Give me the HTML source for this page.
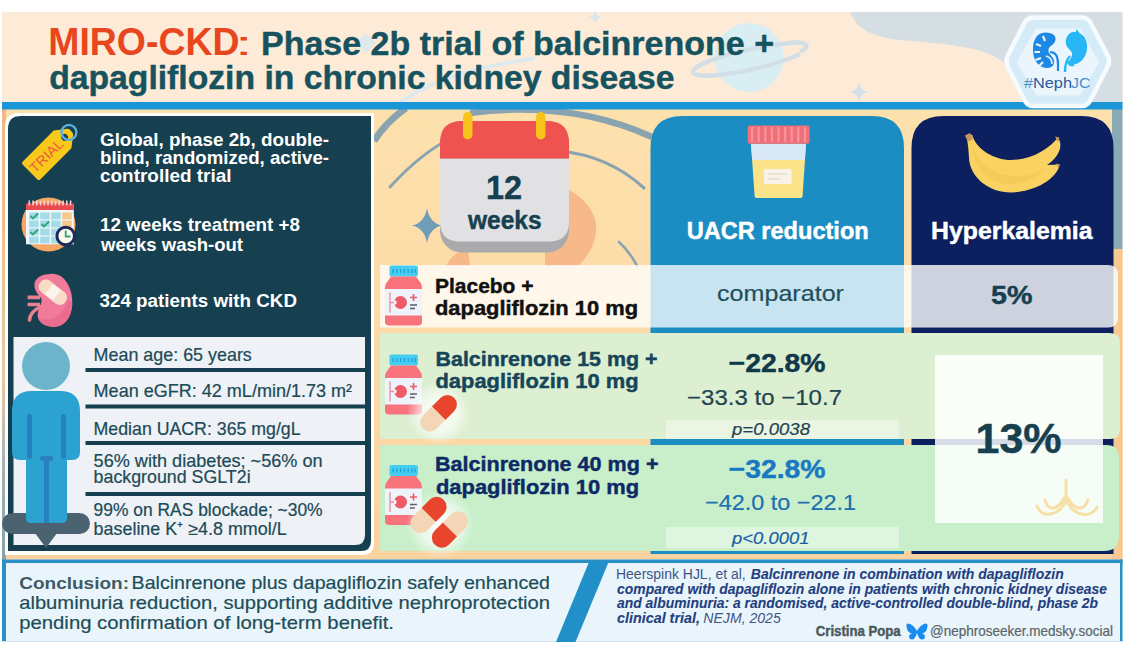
<!DOCTYPE html><html><head><meta charset="utf-8"><style>html,body{margin:0;padding:0;background:#fff;width:1145px;height:650px;overflow:hidden}svg{display:block}text{font-family:"Liberation Sans", sans-serif}</style></head><body><svg width="1145" height="650" viewBox="0 0 1145 650"><defs><linearGradient id="peach" x1="0" y1="0" x2="0" y2="1"><stop offset="0" stop-color="#fde1ad"/><stop offset="0.5" stop-color="#fcdba8"/><stop offset="1" stop-color="#fbd3a0"/></linearGradient><linearGradient id="lstrip" x1="0" y1="0" x2="0" y2="1"><stop offset="0" stop-color="#efb787"/><stop offset="0.6" stop-color="#e6c9a0"/><stop offset="0.8" stop-color="#a3b3b2"/><stop offset="1" stop-color="#87a2ac"/></linearGradient><radialGradient id="glow"><stop offset="0" stop-color="#fff" stop-opacity="0.9"/><stop offset="0.6" stop-color="#fff" stop-opacity="0.6"/><stop offset="1" stop-color="#fff" stop-opacity="0"/></radialGradient></defs><rect x="0" y="0" width="1145" height="650" fill="#ffffff"/>
<rect x="2" y="12" width="1120.5" height="92" fill="#fdebd8"/>
<path d="M850 12 C856 26 866 36 900 40 C945 44 985 46 1004 63 C1016 74 1022 92 1028 104 L1122.5 104 L1122.5 12 Z" fill="#d5dfe3"/>
<path d="M398 104 Q440 72 535 58" fill="none" stroke="#dde9ee" stroke-width="4"/>
<circle cx="749" cy="57.5" r="34.6" fill="#d9eef3"/>
<path d="M693 73 C690 64 740 48 790 43 C806 41 812 46 800 52" fill="none" stroke="#d2dfe6" stroke-width="4.5"/>
<path d="M693 73 C700 80 760 72 800 54" fill="none" stroke="#d2dfe6" stroke-width="4.5"/>
<path d="M859 82 Q860 91 869 92 Q860 93 859 102 Q858 93 849 92 Q858 91 859 82 Z" fill="#d3e0e6"/>
<path d="M595 10 Q596 16 602 17 Q596 18 595 24 Q594 18 588 17 Q594 16 595 10 Z" fill="#d8e6ee"/>
<path d="M366 33 L376 43 L366 53 L356 43 Z" fill="#d6e8f0" opacity="0.8"/>
<rect x="2" y="109" width="1120.5" height="451" fill="url(#peach)"/>
<rect x="1112" y="109" width="10.5" height="140" fill="#88abb5"/>
<rect x="1112" y="249" width="10.5" height="311" fill="#f7c892"/>
<rect x="2" y="109" width="4" height="451" fill="url(#lstrip)"/>
<path d="M374 141 Q386 122 406 108" fill="none" stroke="#8aa3b0" stroke-width="7"/>
<path d="M470 113 Q570 100 652 137" fill="none" stroke="#8aa3b0" stroke-width="6.5"/>
<path d="M390 187 C410 165 430 148 455 136" fill="none" stroke="#8aa3b0" stroke-width="3" stroke-linecap="round"/>
<path d="M560 151 C590 154 620 166 644 188" fill="none" stroke="#8aa3b0" stroke-width="3.2" stroke-linecap="round"/>
<path d="M619 242 Q630 252 637 266" fill="none" stroke="#8aa3b0" stroke-width="2.6" stroke-linecap="round"/>
<path d="M560 186 C585 195 598 215 596 232 C594 248 586 258 578 266 L545 266 L545 186 Z" fill="#f7b88a"/>
<path d="M446 266 C450 257 458 251 468 249 L470 266 Z" fill="#f7b88a"/>
<path d="M427 208 Q429.5 223 442 225.5 Q429.5 228 427 243 Q424.5 228 412 225.5 Q424.5 223 427 208 Z" fill="#6f9cb6"/>
<rect x="2" y="102" width="1120.5" height="7.5" fill="#1a95d5"/>
<text x="48.3" y="54.6" font-size="38" fill="#e8461e" font-weight="bold" textLength="191.2" lengthAdjust="spacingAndGlyphs" >MIRO-CKD</text>
<text x="234.5" y="54.6" font-size="34" fill="#e8461e" textLength="18.5" lengthAdjust="spacingAndGlyphs" >:</text>
<text x="261.0" y="54.6" font-size="34" fill="#17535f" stroke="#17535f" stroke-width="0.45" font-weight="bold" textLength="513.0" lengthAdjust="spacingAndGlyphs" >Phase 2b trial of balcinrenone +</text>
<text x="49.2" y="89.3" font-size="34" fill="#17535f" stroke="#17535f" stroke-width="0.45" font-weight="bold" textLength="625.3" lengthAdjust="spacingAndGlyphs" >dapagliflozin in chronic kidney disease</text>
<path d="M1033 17.5 L1082 17.5 Q1087 17.5 1090 22 L1107.5 55 Q1110.5 61 1107.5 67 L1090 101 Q1087 106 1082 106 L1033 106 Q1028 106 1025 101 L1008 67 Q1005 61 1008 55 L1025 22 Q1028 17.5 1033 17.5 Z" fill="#d6ebf8" stroke="#f6fbff" stroke-width="4.5"/>
<path d="M1036 28.6 L1080 28.6 L1099 62 L1080 95.6 L1036 95.6 L1016.7 62 Z" fill="#eaf5fc"/>
<path d="M1046 32.6 C1036 32 1032.5 42 1033 51 C1033.5 62 1040 68.5 1048 68 C1054 67.5 1055.5 62 1053 58 C1050.5 54.5 1047 52 1049 48 C1051 45 1055.5 44 1055.5 39 C1055.5 34.5 1051 32.8 1046 32.6 Z" fill="#1e88e5"/>
<path d="M1036 44 L1041 46 M1034.5 52 L1040 52 M1035.5 60 L1041 58 M1039 66 L1043 62 M1043 36 L1045 41" stroke="#eaf5fc" stroke-width="2.2"/>
<path d="M1050 52 C1056 52 1058 57 1058 64 L1058 71" fill="none" stroke="#1e88e5" stroke-width="2.2"/>
<path d="M1046 56 C1050 57 1052 60 1052 64" fill="none" stroke="#eaf5fc" stroke-width="1.5"/>
<path d="M1073 32 C1083 31 1088 40 1087 49 C1086 58 1080 64 1073 64.5 C1070 64.6 1068.5 62 1070 59.5 C1071.5 57 1073 55 1071.5 52 C1070 49.5 1067 48 1066 44 C1065 39 1068 32.5 1073 32 Z" fill="#29b6f6"/>
<path d="M1070 56 C1066 60 1065 66 1065 72" fill="none" stroke="#29b6f6" stroke-width="2.4"/>
<path d="M1067 61 C1071 60 1075 62 1074 66 C1070 67 1067 65 1067 61 Z" fill="#29b6f6"/>
<path d="M1076.5 29 L1079.5 33 L1075.5 33.5 Z" fill="#29b6f6"/>
<text x="1024.0" y="88.4" font-size="15" fill="#4a90c8" textLength="9.0" lengthAdjust="spacingAndGlyphs" >#</text>
<text x="1033.0" y="88.4" font-size="15" fill="#2d5aa0" textLength="39.0" lengthAdjust="spacingAndGlyphs" >Neph</text>
<text x="1071.0" y="88.4" font-size="15" fill="#4a8fd0" textLength="19.5" lengthAdjust="spacingAndGlyphs" >JC</text>
<path d="M19 113 L374 113 L374 543 Q374 555 362 555 L5 555 L5 127 Q5 113 19 113 Z" fill="#ffffff"/>
<path d="M21 116 L371 116 L371 541 Q371 551 361 551 L8 551 L8 129 Q8 116 21 116 Z" fill="#163f4f"/>
<path d="M13.5 337 L365 337 L365 535 Q365 545 355 545 L13.5 545 Z" fill="#eef1f5"/>
<rect x="85.5" y="368" width="279.5" height="4" fill="#163f4f"/>
<rect x="85.5" y="404.5" width="279.5" height="4" fill="#163f4f"/>
<rect x="85.5" y="441" width="279.5" height="4" fill="#163f4f"/>
<rect x="85.5" y="492" width="279.5" height="4" fill="#163f4f"/>
<g transform="translate(47 155) rotate(-45)"><path d="M-22 -12.5 L22 -12.5 L33 -4 Q34 -3 34 -1 L34 1 Q34 3 33 4 L22 12.5 L-22 12.5 Q-24 12.5 -24 10.5 L-24 -10.5 Q-24 -12.5 -22 -12.5 Z" fill="#f8c81c"/><circle cx="25" cy="0" r="3.3" fill="#163f4f"/><text x="-21.5" y="5" font-size="14" fill="#ef5a3c" font-family="Liberation Sans" textLength="41" lengthAdjust="spacingAndGlyphs">TRIAL</text><circle cx="31.5" cy="-0.5" r="7.5" fill="none" stroke="#5aaee0" stroke-width="2.4"/></g>
<circle cx="48.5" cy="224.5" r="27" fill="#f6a765"/>
<rect x="26" y="204" width="47.8" height="40.3" fill="#eef7fb"/>
<rect x="26" y="203.5" width="47.8" height="6.5" fill="#e84a4f"/>
<rect x="28.5" y="200.5" width="1.6" height="5" fill="#f4d0d4"/>
<rect x="32.25" y="200.5" width="1.6" height="5" fill="#f4d0d4"/>
<rect x="36.0" y="200.5" width="1.6" height="5" fill="#f4d0d4"/>
<rect x="39.75" y="200.5" width="1.6" height="5" fill="#f4d0d4"/>
<rect x="43.5" y="200.5" width="1.6" height="5" fill="#f4d0d4"/>
<rect x="47.25" y="200.5" width="1.6" height="5" fill="#f4d0d4"/>
<rect x="51.0" y="200.5" width="1.6" height="5" fill="#f4d0d4"/>
<rect x="54.75" y="200.5" width="1.6" height="5" fill="#f4d0d4"/>
<rect x="58.5" y="200.5" width="1.6" height="5" fill="#f4d0d4"/>
<rect x="62.25" y="200.5" width="1.6" height="5" fill="#f4d0d4"/>
<rect x="66.0" y="200.5" width="1.6" height="5" fill="#f4d0d4"/>
<rect x="69.75" y="200.5" width="1.6" height="5" fill="#f4d0d4"/>
<rect x="29.2" y="212.5" width="9.5" height="6.8" fill="#a3dbe8"/>
<rect x="40.2" y="212.5" width="9.5" height="6.8" fill="#a3dbe8"/>
<rect x="51.2" y="212.5" width="9.5" height="6.8" fill="#a3dbe8"/>
<rect x="62.2" y="212.5" width="9.5" height="6.8" fill="#f7c987"/>
<rect x="29.2" y="220.5" width="9.5" height="6.8" fill="#a3dbe8"/>
<rect x="40.2" y="220.5" width="9.5" height="6.8" fill="#a3dbe8"/>
<rect x="51.2" y="220.5" width="9.5" height="6.8" fill="#a3dbe8"/>
<rect x="62.2" y="220.5" width="9.5" height="6.8" fill="#f7c987"/>
<rect x="29.2" y="228.5" width="9.5" height="6.8" fill="#a3dbe8"/>
<rect x="40.2" y="228.5" width="9.5" height="6.8" fill="#a3dbe8"/>
<rect x="51.2" y="228.5" width="9.5" height="6.8" fill="#a3dbe8"/>
<rect x="62.2" y="228.5" width="9.5" height="6.8" fill="#a3dbe8"/>
<rect x="29.2" y="236.5" width="9.5" height="6.8" fill="#a3dbe8"/>
<rect x="40.2" y="236.5" width="9.5" height="6.8" fill="#a3dbe8"/>
<rect x="51.2" y="236.5" width="9.5" height="6.8" fill="#a3dbe8"/>
<rect x="62.2" y="236.5" width="9.5" height="6.8" fill="#a3dbe8"/>
<path d="M30.5 216 l2.5 2.5 l5 -5 M41.5 224 l2.5 2.5 l5 -5 M30.5 232 l2.5 2.5 l5 -5" stroke="#2fa57a" stroke-width="1.8" fill="none"/>
<circle cx="65.7" cy="236" r="8.8" fill="#fbf8ec" stroke="#1f2a5a" stroke-width="3"/>
<path d="M65.7 230.5 L65.7 236.5 L70.5 236.5" stroke="#2fa57a" stroke-width="1.8" fill="none"/>
<path d="M27.6 297.4 L40 297.4 M27.6 304.5 L40 304.5" stroke="#e9808f" stroke-width="3.6"/>
<path d="M40 307 C34 310 30 314 29.5 320" fill="none" stroke="#e9808f" stroke-width="3.6" stroke-linecap="round"/>
<path d="M50 274 C64 272 73 288 72.3 304 C71.5 320 62 328 52 326.9 C42 326 36 320 38 312 C39.5 306 43 302 41 298 C37.5 294 34 290 34.5 284 C35 278 42 274 50 274 Z" fill="#f27a9a"/>
<path d="M72.3 304 C71.5 320 62 328 52 326.9 C46 326 41 323 39 318 C48 322 62 318 68 300 Z" fill="#e8668a" opacity="0.7"/>
<g transform="rotate(38 53 292)"><rect x="37" y="285" width="32" height="14.5" rx="7" fill="#f9dcc8"/><rect x="48" y="286" width="10" height="12.5" fill="#fdf3ee"/></g>
<text x="100.0" y="146.3" font-size="18.5" fill="#ffffff" font-weight="bold" textLength="229.0" lengthAdjust="spacingAndGlyphs" >Global, phase 2b, double-</text>
<text x="100.0" y="164" font-size="18.5" fill="#ffffff" font-weight="bold" textLength="229.0" lengthAdjust="spacingAndGlyphs" >blind, randomized, active-</text>
<text x="100.0" y="181.5" font-size="18.5" fill="#ffffff" font-weight="bold" textLength="131.5" lengthAdjust="spacingAndGlyphs" >controlled trial</text>
<text x="100.0" y="230.8" font-size="18.5" fill="#ffffff" font-weight="bold" textLength="200.0" lengthAdjust="spacingAndGlyphs" >12 weeks treatment +8</text>
<text x="101.0" y="250.8" font-size="18.5" fill="#ffffff" font-weight="bold" textLength="142.0" lengthAdjust="spacingAndGlyphs" >weeks wash-out</text>
<text x="99.5" y="306.6" font-size="18.5" fill="#ffffff" font-weight="bold" textLength="197.5" lengthAdjust="spacingAndGlyphs" >324 patients with CKD</text>
<text x="93.6" y="361" font-size="17.7" fill="#1c4a57" stroke="#1c4a57" stroke-width="0.2" textLength="158.2" lengthAdjust="spacingAndGlyphs" >Mean age: 65 years</text>
<text x="93.6" y="397" font-size="17.7" fill="#1c4a57" stroke="#1c4a57" stroke-width="0.2" textLength="258.5" lengthAdjust="spacingAndGlyphs" >Mean eGFR: 42 mL/min/1.73 m²</text>
<text x="93.6" y="435" font-size="17.7" fill="#1c4a57" stroke="#1c4a57" stroke-width="0.2" textLength="207.0" lengthAdjust="spacingAndGlyphs" >Median UACR: 365 mg/gL</text>
<text x="93.6" y="466.5" font-size="17.7" fill="#1c4a57" stroke="#1c4a57" stroke-width="0.2" textLength="229.0" lengthAdjust="spacingAndGlyphs" >56% with diabetes; ~56% on</text>
<text x="93.6" y="483" font-size="17.7" fill="#1c4a57" stroke="#1c4a57" stroke-width="0.2" textLength="157.0" lengthAdjust="spacingAndGlyphs" >background SGLT2i</text>
<text x="93.6" y="516" font-size="17.7" fill="#1c4a57" stroke="#1c4a57" stroke-width="0.2" textLength="229.0" lengthAdjust="spacingAndGlyphs" >99% on RAS blockade; ~30%</text>
<text x="93.6" y="535" font-size="17.7" fill="#1c4a57" stroke="#1c4a57" stroke-width="0.2" textLength="193.0" lengthAdjust="spacingAndGlyphs" >baseline K⁺ ≥4.8 mmol/L</text>
<rect x="2" y="513" width="88" height="21" rx="10.5" fill="#4b6371"/>
<path d="M35 533 L57 533 L46 548 Z" fill="#4b6371"/>
<circle cx="46" cy="366" r="24" fill="#6cb4cc"/>
<path d="M32 391 L60 391 Q80 391 80 411 L80 452 Q80 460 72 460 L67 460 L67 518 Q67 523 62 523 L51 523 Q47 523 47 519 L46.5 470 L46 519 Q46 523 42 523 L31 523 Q26 523 26 518 L26 460 L20 460 Q12 460 12 452 L12 411 Q12 391 32 391 Z" fill="#2ca2d0"/>
<rect x="27" y="414" width="5" height="45" rx="2.5" fill="#2a7fc0"/>
<rect x="61" y="414" width="5" height="45" rx="2.5" fill="#2a7fc0"/>
<rect x="44" y="458" width="5" height="65" fill="#2a7fc0"/>
<rect x="40" y="456" width="13" height="5" rx="2" fill="#2a7fc0"/>
<rect x="440" y="121" width="129" height="131.6" rx="22" fill="#a9aaac"/>
<path d="M440 158.6 L569 158.6 L569 221.5 Q569 241.5 549 241.5 L460 241.5 Q440 241.5 440 221.5 Z" fill="#e1e1e3"/>
<path d="M462 121 L547 121 Q569 121 569 143 L569 158.6 L440 158.6 L440 143 Q440 121 462 121 Z" fill="#ef5350"/>
<rect x="463" y="112" width="9.5" height="27.5" rx="4.75" fill="#f8c41c"/>
<rect x="536" y="112" width="9.5" height="27.5" rx="4.75" fill="#f8c41c"/>
<text x="486.0" y="198.5" font-size="33.5" fill="#163f4f" stroke="#163f4f" stroke-width="0.45" font-weight="bold" textLength="36.0" lengthAdjust="spacingAndGlyphs" >12</text>
<text x="468.0" y="228.5" font-size="25" fill="#163f4f" stroke="#163f4f" stroke-width="0.45" font-weight="bold" textLength="73.5" lengthAdjust="spacingAndGlyphs" >weeks</text>
<path d="M682.5 116 L872 116 Q904 116 904 148 L904 554 L650.5 554 L650.5 148 Q650.5 116 682.5 116 Z" fill="#1b8dc3"/>
<path d="M943.5 116 L1081.5 116 Q1113.5 116 1113.5 148 L1113.5 554 L911.5 554 L911.5 148 Q911.5 116 943.5 116 Z" fill="#0c1f5f"/>
<path d="M751 143.8 L806 143.8 L802.6 196 Q802.6 198 800.6 198 L756.6 198 Q754.6 198 754.6 196 Z" fill="#fbe38a"/>
<path d="M751 143.8 L806 143.8 L804.8 160 L752.2 160 Z" fill="#d8e8f6"/>
<rect x="747.7" y="125.4" width="61.8" height="18.4" rx="2" fill="#f0707a"/>
<rect x="751.0" y="127" width="2.2" height="15" fill="#f7949b"/>
<rect x="757.6" y="127" width="2.2" height="15" fill="#f7949b"/>
<rect x="764.2" y="127" width="2.2" height="15" fill="#f7949b"/>
<rect x="770.8" y="127" width="2.2" height="15" fill="#f7949b"/>
<rect x="777.4" y="127" width="2.2" height="15" fill="#f7949b"/>
<rect x="784.0" y="127" width="2.2" height="15" fill="#f7949b"/>
<rect x="790.6" y="127" width="2.2" height="15" fill="#f7949b"/>
<rect x="797.2" y="127" width="2.2" height="15" fill="#f7949b"/>
<rect x="803.8" y="127" width="2.2" height="15" fill="#f7949b"/>
<rect x="764" y="169" width="27.5" height="15" rx="1.5" fill="#f8f3ea"/>
<path d="M768 174 h19 M768 179 h12" stroke="#d9d2c4" stroke-width="1.2"/>
<text x="686.7" y="239" font-size="23.3" fill="#ffffff" stroke="#ffffff" stroke-width="0.45" font-weight="bold" textLength="182.0" lengthAdjust="spacingAndGlyphs" >UACR reduction</text>
<path d="M966.5 137 L972 134.5 C976 148 990 158 1008 160 C1030 161 1049 149 1058 137.5 C1064 146 1058 158 1047 165 L1059.5 164.5 C1058 176 1040 191 1012 192.5 C990 193 970 178 969 158 C968.5 150 968 143 966.5 137 Z" fill="#f9d262"/>
<path d="M972 145 C978 165 996 176 1016 176 C1032 176 1042 171 1047 165 C1040 178 1020 186 1004 184 C986 181 974 166 972 145 Z" fill="#f2c24e" opacity="0.55"/>
<path d="M964.8 135.5 L970 133 L973 139 L968 141.5 Z" fill="#c8955a"/>
<path d="M1055 136.5 L1059.5 137.5 L1058 142 Z" fill="#c8955a"/>
<path d="M1056 163.5 L1060 164.5 L1058.5 168.5 Z" fill="#c8955a"/>
<text x="931.0" y="239" font-size="24" fill="#ffffff" stroke="#ffffff" stroke-width="0.45" font-weight="bold" textLength="161.5" lengthAdjust="spacingAndGlyphs" >Hyperkalemia</text>
<path d="M380 265 L1108 265 Q1118 265 1118 275 L1118 317.5 Q1118 327.5 1108 327.5 L380 327.5 Z" fill="#ffffff" fill-opacity="0.76"/>
<path d="M911.5 265 L1108 265 Q1118 265 1118 275 L1118 317.5 Q1118 327.5 1108 327.5 L911.5 327.5 Z" fill="#ffffff" fill-opacity="0.17"/>
<g transform="translate(385 265.5)"><rect x="4.5" y="0" width="28.5" height="11" rx="2" fill="#45cdf2"/><path d="M8 3.5 v4 M11.8 3.5 v4 M15.6 3.5 v4 M19.4 3.5 v4 M23.2 3.5 v4 M27 3.5 v4 M30 3.5 v4" stroke="#1b9fd6" stroke-width="1.2"/><path d="M6 11 L31 11 L36 18 Q37 20 37 23 L37 56 Q37 60 33 60 L4 60 Q0 60 0 56 L0 23 Q0 20 1 18 Z" fill="#f8737c"/><rect x="0" y="23.5" width="37" height="26.5" fill="#eef2fb"/><circle cx="15.5" cy="37" r="6.5" fill="#ee5a66"/><circle cx="9.5" cy="37" r="2.2" fill="#eef2fb"/><path d="M5 27 v20 M5 37 h4" stroke="#f08a95" stroke-width="1.3" fill="none"/><path d="M25 32 h7 M28.5 28.5 v7" stroke="#ee5a66" stroke-width="1.6"/><path d="M25 39.5 h7 M25 43 h5" stroke="#555b66" stroke-width="1.4"/></g>
<text x="435.0" y="292.7" font-size="21" fill="#111111" stroke="#111111" stroke-width="0.45" font-weight="bold" textLength="98.5" lengthAdjust="spacingAndGlyphs" >Placebo +</text>
<text x="435.0" y="315.2" font-size="21" fill="#111111" stroke="#111111" stroke-width="0.45" font-weight="bold" textLength="203.0" lengthAdjust="spacingAndGlyphs" >dapagliflozin 10 mg</text>
<text x="717.0" y="301.4" font-size="22" fill="#1f4f5c" stroke="#1f4f5c" stroke-width="0.2" textLength="127.0" lengthAdjust="spacingAndGlyphs" >comparator</text>
<text x="991.0" y="304" font-size="26" fill="#163f4f" stroke="#163f4f" stroke-width="0.45" font-weight="bold" textLength="41.5" lengthAdjust="spacingAndGlyphs" >5%</text>
<path d="M380 333 L1110 333 Q1120 333 1120 343 L1120 429 Q1120 439 1110 439 L380 439 Z" fill="#dcefd0"/>
<path d="M380 445 L1106 445 Q1119 445 1119 458 L1119 536 Q1119 551 1104 551 L380 551 Z" fill="#c8efca"/>
<rect x="666" y="420" width="233" height="19" fill="#ffffff" fill-opacity="0.4"/>
<rect x="666" y="527" width="233" height="21" fill="#ffffff" fill-opacity="0.4"/>
<g transform="translate(385 354.5)"><rect x="4.5" y="0" width="28.5" height="11" rx="2" fill="#45cdf2"/><path d="M8 3.5 v4 M11.8 3.5 v4 M15.6 3.5 v4 M19.4 3.5 v4 M23.2 3.5 v4 M27 3.5 v4 M30 3.5 v4" stroke="#1b9fd6" stroke-width="1.2"/><path d="M6 11 L31 11 L36 18 Q37 20 37 23 L37 56 Q37 60 33 60 L4 60 Q0 60 0 56 L0 23 Q0 20 1 18 Z" fill="#f8737c"/><rect x="0" y="23.5" width="37" height="26.5" fill="#eef2fb"/><circle cx="15.5" cy="37" r="6.5" fill="#ee5a66"/><circle cx="9.5" cy="37" r="2.2" fill="#eef2fb"/><path d="M5 27 v20 M5 37 h4" stroke="#f08a95" stroke-width="1.3" fill="none"/><path d="M25 32 h7 M28.5 28.5 v7" stroke="#ee5a66" stroke-width="1.6"/><path d="M25 39.5 h7 M25 43 h5" stroke="#555b66" stroke-width="1.4"/></g>
<g transform="translate(385 465)"><rect x="4.5" y="0" width="28.5" height="11" rx="2" fill="#45cdf2"/><path d="M8 3.5 v4 M11.8 3.5 v4 M15.6 3.5 v4 M19.4 3.5 v4 M23.2 3.5 v4 M27 3.5 v4 M30 3.5 v4" stroke="#1b9fd6" stroke-width="1.2"/><path d="M6 11 L31 11 L36 18 Q37 20 37 23 L37 56 Q37 60 33 60 L4 60 Q0 60 0 56 L0 23 Q0 20 1 18 Z" fill="#f8737c"/><rect x="0" y="23.5" width="37" height="26.5" fill="#eef2fb"/><circle cx="15.5" cy="37" r="6.5" fill="#ee5a66"/><circle cx="9.5" cy="37" r="2.2" fill="#eef2fb"/><path d="M5 27 v20 M5 37 h4" stroke="#f08a95" stroke-width="1.3" fill="none"/><path d="M25 32 h7 M28.5 28.5 v7" stroke="#ee5a66" stroke-width="1.6"/><path d="M25 39.5 h7 M25 43 h5" stroke="#555b66" stroke-width="1.4"/></g>
<circle cx="438.6" cy="413.3" r="32.0" fill="url(#glow)"/>
<g transform="rotate(-45 438.6 413.3)"><path d="M438.6 403.8 L451.1 403.8 A9.5 9.5 0 0 1 451.1 422.8 L438.6 422.8 Z" fill="#e9452d"/><path d="M438.6 403.8 L426.1 403.8 A9.5 9.5 0 0 0 426.1 422.8 L438.6 422.8 Z" fill="#f4d5b6"/></g>
<circle cx="440" cy="525" r="34" fill="url(#glow)"/>
<g transform="rotate(-45 428.5 515)"><path d="M428.5 505.0 L440.0 505.0 A10.0 10.0 0 0 1 440.0 525.0 L428.5 525.0 Z" fill="#e9452d"/><path d="M428.5 505.0 L417.0 505.0 A10.0 10.0 0 0 0 417.0 525.0 L428.5 525.0 Z" fill="#f4d5b6"/></g>
<g transform="rotate(135 450 529.5)"><path d="M450 519.5 L461.5 519.5 A10.0 10.0 0 0 1 461.5 539.5 L450 539.5 Z" fill="#e9452d"/><path d="M450 519.5 L438.5 519.5 A10.0 10.0 0 0 0 438.5 539.5 L450 539.5 Z" fill="#f4d5b6"/></g>
<text x="435.5" y="366" font-size="21" fill="#15455a" stroke="#15455a" stroke-width="0.45" font-weight="bold" textLength="222.0" lengthAdjust="spacingAndGlyphs" >Balcinrenone 15 mg +</text>
<text x="435.5" y="388.2" font-size="21" fill="#15455a" stroke="#15455a" stroke-width="0.45" font-weight="bold" textLength="203.0" lengthAdjust="spacingAndGlyphs" >dapagliflozin 10 mg</text>
<text x="435.0" y="470.8" font-size="21" fill="#0d2a66" stroke="#0d2a66" stroke-width="0.45" font-weight="bold" textLength="223.5" lengthAdjust="spacingAndGlyphs" >Balcinrenone 40 mg +</text>
<text x="436.0" y="493.5" font-size="21" fill="#0d2a66" stroke="#0d2a66" stroke-width="0.45" font-weight="bold" textLength="203.0" lengthAdjust="spacingAndGlyphs" >dapagliflozin 10 mg</text>
<text x="728.6" y="372" font-size="26.5" fill="#12394a" stroke="#12394a" stroke-width="0.45" font-weight="bold" textLength="97.0" lengthAdjust="spacingAndGlyphs" >−22.8%</text>
<text x="687.0" y="405.3" font-size="22" fill="#1f4450" stroke="#1f4450" stroke-width="0.2" textLength="155.0" lengthAdjust="spacingAndGlyphs" >−33.3 to −10.7</text>
<text x="732.0" y="435.4" font-size="17" fill="#1f4450" stroke="#1f4450" stroke-width="0.2" font-style="italic" textLength="78.0" lengthAdjust="spacingAndGlyphs" >p=0.0038</text>
<text x="728.6" y="477.9" font-size="26.5" fill="#1a78c2" stroke="#1a78c2" stroke-width="0.45" font-weight="bold" textLength="97.0" lengthAdjust="spacingAndGlyphs" >−32.8%</text>
<text x="705.0" y="510.4" font-size="22" fill="#1c6fb0" stroke="#1c6fb0" stroke-width="0.2" textLength="151.0" lengthAdjust="spacingAndGlyphs" >−42.0 to −22.1</text>
<text x="732.0" y="544" font-size="17" fill="#1a5fa5" stroke="#1a5fa5" stroke-width="0.2" font-style="italic" textLength="77.5" lengthAdjust="spacingAndGlyphs" >p&lt;0.0001</text>
<rect x="935" y="355" width="168" height="168" fill="#ffffff" fill-opacity="0.84"/>
<path d="M1066 480 L1066 503 M1066 500 C1060 515 1042 520 1037 506 M1064 498 C1058 510 1048 512 1045 500 M1067 500 C1072 515 1090 520 1097 507 M1068 498 C1074 510 1084 512 1088 500" fill="none" stroke="#f6e0a6" stroke-width="3" stroke-linecap="round"/>
<text x="975.5" y="453.4" font-size="42" fill="#163f4f" stroke="#163f4f" stroke-width="0.45" font-weight="bold" textLength="86.0" lengthAdjust="spacingAndGlyphs" >13%</text>
<rect x="2" y="559.5" width="1120.5" height="82.5" fill="#eaf5fb"/>
<rect x="2" y="559.5" width="1120.5" height="3.5" fill="#2a8fc4"/>
<rect x="2" y="559.5" width="4" height="82.5" fill="#2a8fc4"/>
<rect x="1120" y="559.5" width="2.5" height="82.5" fill="#2a8fc4"/>
<rect x="2" y="641" width="1120.5" height="1" fill="#cfe3ee"/>
<path d="M589 562 L608.6 562 L575.5 642 L556 642 Z" fill="#2290c8"/>
<text x="19.2" y="589" font-size="17" fill="#3f5a63" font-weight="bold" textLength="109.8" lengthAdjust="spacingAndGlyphs" >Conclusion:</text>
<text x="131.6" y="589" font-size="18.5" fill="#1d4d58" stroke="#1d4d58" stroke-width="0.2" textLength="418.4" lengthAdjust="spacingAndGlyphs" >Balcinrenone plus dapagliflozin safely enhanced</text>
<text x="19.2" y="609.2" font-size="18.5" fill="#1d4d58" stroke="#1d4d58" stroke-width="0.2" textLength="530.8" lengthAdjust="spacingAndGlyphs" >albuminuria reduction, supporting additive nephroprotection</text>
<text x="19.2" y="629.2" font-size="18.5" fill="#1d4d58" stroke="#1d4d58" stroke-width="0.2" textLength="374.8" lengthAdjust="spacingAndGlyphs" >pending confirmation of long-term benefit.</text>
<text x="616.0" y="578.8" font-size="14" fill="#3d5486" textLength="129.7" lengthAdjust="spacingAndGlyphs" >Heerspink HJL, et al,</text>
<text x="750.8" y="578.8" font-size="14" fill="#243f80" stroke="#243f80" stroke-width="0.1" font-weight="bold" font-style="italic" textLength="312.9" lengthAdjust="spacingAndGlyphs" >Balcinrenone in combination with dapagliflozin</text>
<text x="617.0" y="593.7" font-size="14" fill="#243f80" stroke="#243f80" stroke-width="0.1" font-weight="bold" font-style="italic" textLength="490.0" lengthAdjust="spacingAndGlyphs" >compared with dapagliflozin alone in patients with chronic kidney disease</text>
<text x="617.0" y="608.3" font-size="14" fill="#243f80" stroke="#243f80" stroke-width="0.1" font-weight="bold" font-style="italic" textLength="481.0" lengthAdjust="spacingAndGlyphs" >and albuminuria: a randomised, active-controlled double-blind, phase 2b</text>
<text x="617.0" y="622.7" font-size="14" fill="#243f80" stroke="#243f80" stroke-width="0.1" font-weight="bold" font-style="italic" textLength="82.9" lengthAdjust="spacingAndGlyphs" >clinical trial,</text>
<text x="703.3" y="622.7" font-size="14" fill="#3d5486" font-style="italic" textLength="77.5" lengthAdjust="spacingAndGlyphs" >NEJM, 2025</text>
<text x="815.8" y="636" font-size="14.5" fill="#4a5a5e" stroke="#4a5a5e" stroke-width="0.45" font-weight="bold" textLength="84.9" lengthAdjust="spacingAndGlyphs" >Cristina Popa</text>
<path d="M917 631 C913 624 906 621 906.5 626 C907 631 909 633 912 633.5 C908 634.5 908 639 912 639.5 C914.5 639.8 916 636 917 633 C918 636 919.5 639.8 922 639.5 C926 639 926 634.5 922 633.5 C925 633 927 631 927.5 626 C928 621 921 624 917 631 Z" fill="#1a8cf0"/>
<text x="930.0" y="636" font-size="14.5" fill="#5a6468" stroke="#5a6468" stroke-width="0.2" textLength="183.0" lengthAdjust="spacingAndGlyphs" >@nephroseeker.medsky.social</text></svg></body></html>
